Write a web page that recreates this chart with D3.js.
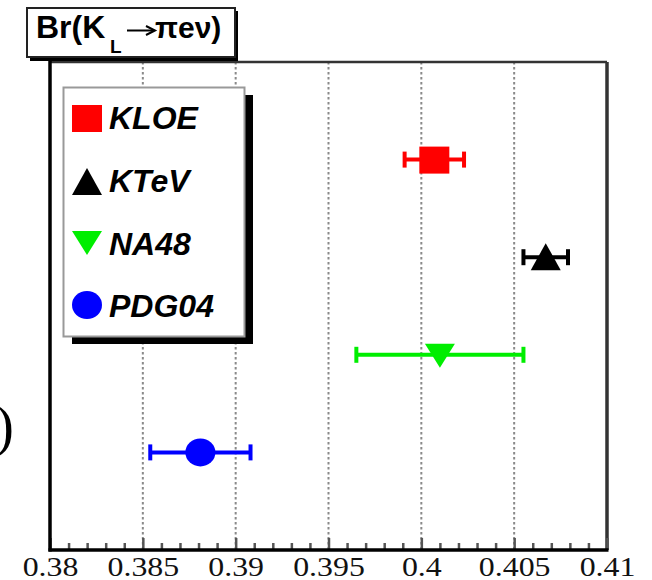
<!DOCTYPE html>
<html><head><meta charset="utf-8">
<script src="https://cdn.jsdelivr.net/npm/d3@7"></script>
<style>html,body{margin:0;padding:0;background:#fff;}svg{display:block;}</style>
</head><body>
<svg id="c" width="652" height="580"></svg>
<script>
const experiments = ["KLOE", "KTeV", "NA48", "PDG04"];
const brValues = [0.4007, 0.4067, 0.4010, 0.3881];
const brErrors = [0.0016, 0.0012, 0.0045, 0.0027];
const rowPos = [4, 3, 2, 1];
const markerShapes = ["square", "triangle", "triangleDown", "circle"];
const markerColors = ["#ff0000", "#000000", "#00ee00", "#0000ff"];
const majorTicks = [0.38, 0.385, 0.39, 0.395, 0.4, 0.405, 0.41];
const tickLabels = ["0.38", "0.385", "0.39", "0.395", "0.4", "0.405", "0.41"];
const minorTicks = [0.381,0.382,0.383,0.384,0.386,0.387,0.388,0.389,0.391,0.392,0.393,0.394,0.396,0.397,0.398,0.399,0.401,0.402,0.403,0.404,0.406,0.407,0.408,0.409];

const svg = d3.select("#c");
const L = 50, R = 607, T = 62, B = 550;
const x = d3.scaleLinear().domain([0.38, 0.41]).range([L, R]);
const y = d3.scaleLinear().domain([0, 5]).range([B, T]);
const serif = "Liberation Serif, Times New Roman, serif";
const sans = "Liberation Sans, Arial, sans-serif";

// stray glyph at left edge
svg.append("text").attr("x", 14).attr("y", 445).attr("text-anchor", "end")
  .attr("font-family", serif).attr("font-size", 56).text(")");

// gridlines
svg.append("g").selectAll("line").data(majorTicks.slice(1, -1)).join("line")
  .attr("x1", d => x(d)).attr("x2", d => x(d)).attr("y1", T).attr("y2", B)
  .attr("stroke", "#8a8a8a").attr("stroke-width", 2).attr("stroke-dasharray", "2.5,2.5");

// frame top & right
svg.append("line").attr("x1", L).attr("x2", R).attr("y1", T).attr("y2", T).attr("stroke", "#333").attr("stroke-width", 2.5);
svg.append("line").attr("x1", R).attr("x2", R).attr("y1", T).attr("y2", B).attr("stroke", "#333").attr("stroke-width", 3.5);

// minor ticks
const minorAxis = d3.axisBottom(x).tickValues(minorTicks).tickSize(-7).tickFormat("");
const gMin = svg.append("g").attr("transform", `translate(0,${B})`).call(minorAxis);
gMin.select(".domain").remove();
gMin.selectAll(".tick line").attr("stroke", "#555").attr("stroke-width", 2.5);

// major axis with labels
const majorAxis = d3.axisBottom(x).tickValues(majorTicks).tickSize(-12)
  .tickFormat((d, i) => tickLabels[i]).tickPadding(8);
const gMaj = svg.append("g").attr("transform", `translate(0,${B})`).call(majorAxis);
gMaj.attr("font-family", serif).attr("font-size", 27);
gMaj.select(".domain").remove();
gMaj.selectAll(".tick line").attr("stroke", "#555").attr("stroke-width", 2.5);
gMaj.selectAll(".tick text").attr("font-family", serif).attr("font-size", 27)
  .attr("fill", "#111").attr("dy", "0.66em").attr("transform", "scale(1.18,1)");

// left & bottom axis lines
svg.append("line").attr("x1", L).attr("x2", L).attr("y1", T - 2).attr("y2", B + 1.5).attr("stroke", "#000").attr("stroke-width", 3.5);
svg.append("line").attr("x1", L - 1.5).attr("x2", R + 1.5).attr("y1", B).attr("y2", B).attr("stroke", "#000").attr("stroke-width", 3.5);

// marker drawing
function drawMarker(g, shape, color, cx, cy) {
  if (shape === "square") {
    g.append("rect").attr("x", cx - 15).attr("y", cy - 13).attr("width", 30).attr("height", 27).attr("fill", color);
  } else if (shape === "triangle") {
    g.append("path").attr("d", `M${cx - 15},${cy + 13}L${cx + 15},${cy + 13}L${cx},${cy - 14}Z`).attr("fill", color);
  } else if (shape === "triangleDown") {
    g.append("path").attr("d", `M${cx - 15},${cy - 11}L${cx + 15},${cy - 11}L${cx},${cy + 13}Z`).attr("fill", color);
  } else {
    g.append("ellipse").attr("cx", cx).attr("cy", cy).attr("rx", 15).attr("ry", 14).attr("fill", color);
  }
}

// data points with error bars
const gData = svg.append("g");
experiments.forEach((name, i) => {
  const g = gData.append("g");
  const cy = y(rowPos[i]);
  const x0 = x(brValues[i] - brErrors[i]), x1 = x(brValues[i] + brErrors[i]);
  g.append("line").attr("x1", x0).attr("x2", x1).attr("y1", cy).attr("y2", cy)
    .attr("stroke", markerColors[i]).attr("stroke-width", 4);
  [x0, x1].forEach(xx => g.append("line").attr("x1", xx).attr("x2", xx).attr("y1", cy - 8).attr("y2", cy + 8)
    .attr("stroke", markerColors[i]).attr("stroke-width", 4));
  drawMarker(g, markerShapes[i], markerColors[i], x(brValues[i]), cy);
});

// legend
const lg = svg.append("g");
lg.append("rect").attr("x", 72).attr("y", 95).attr("width", 181).attr("height", 249).attr("fill", "#000");
lg.append("rect").attr("x", 63.5).attr("y", 87.5).attr("width", 181).attr("height", 249)
  .attr("fill", "#fff").attr("stroke", "#999").attr("stroke-width", 2);
const legY = [118, 182, 242, 305];
const legBase = [129, 192, 255, 317];
experiments.forEach((name, i) => {
  drawMarker(lg, markerShapes[i], markerColors[i], 87, legY[i]);
  lg.append("text").attr("x", 109).attr("y", legBase[i])
    .attr("font-family", sans).attr("font-weight", "bold")
    .attr("font-style", "italic").attr("font-size", 32).attr("fill", "#000").text(name);
});

// title box
const tb = svg.append("g");
tb.append("rect").attr("x", 30).attr("y", 11).attr("width", 208).attr("height", 50).attr("fill", "#000");
tb.append("rect").attr("x", 27).attr("y", 8).attr("width", 208).attr("height", 49)
  .attr("fill", "#fff").attr("stroke", "#222").attr("stroke-width", 2);
const tfont = { "font-family": sans, "font-weight": "bold", fill: "#000" };
function ttext(xp, yp, size, s) {
  const t = tb.append("text").attr("x", xp).attr("y", yp).attr("font-size", size).text(s);
  Object.entries(tfont).forEach(([k, v]) => t.attr(k, v));
  return t;
}
ttext(36, 38, 32, "Br(K");
ttext(110, 53, 19, "L");
tb.append("path").attr("d", "M127,30.5H153").attr("stroke", "#000").attr("stroke-width", 2);
tb.append("path").attr("d", "M146,26L155,30.5L146,35").attr("stroke", "#000").attr("stroke-width", 2).attr("fill", "none");
ttext(155, 38, 30, "\u03c0e\u03bd)");
</script>
</body></html>
